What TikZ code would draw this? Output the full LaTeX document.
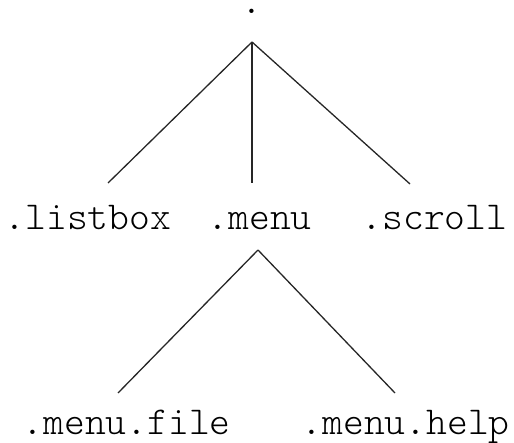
\documentclass[tikz,border=0pt]{standalone}
\begin{document}
\begin{tikzpicture}[x=1pt,y=-1pt,
  ttf/.style={font=\fontseries{l}\ttfamily\fontsize{39.6}{44}\selectfont},
  lbl/.style={ttf,anchor=base west,inner sep=0pt},
  edge/.style={line width=1.3pt,black!85}]
\useasboundingbox (0,0) rectangle (514,443);
\node[ttf,anchor=base,inner sep=0pt] (root) at (252,13.5) {.};
\coordinate (a1) at (252,42);
\coordinate (a2) at (258,250);
\node[lbl] (listbox) at (4.6,230) {.listbox};
\node[lbl] (menu) at (207.6,230) {.menu};
\node[lbl] (scroll) at (361.6,230) {.scroll};
\node[lbl] (file) at (22.6,435) {.menu.file};
\node[lbl] (help) at (301.6,435) {.menu.help};
\coordinate (l1) at (108,183);
\coordinate (m1) at (252,183);
\coordinate (r1) at (410,184);
\coordinate (l2) at (118,393);
\coordinate (r2) at (395,393);
\draw[edge] (a1) -- (l1);
\draw[edge] (a1) -- (m1);
\draw[edge] (a1) -- (r1);
\draw[edge] (a2) -- (l2);
\draw[edge] (a2) -- (r2);
\end{tikzpicture}
\end{document}
